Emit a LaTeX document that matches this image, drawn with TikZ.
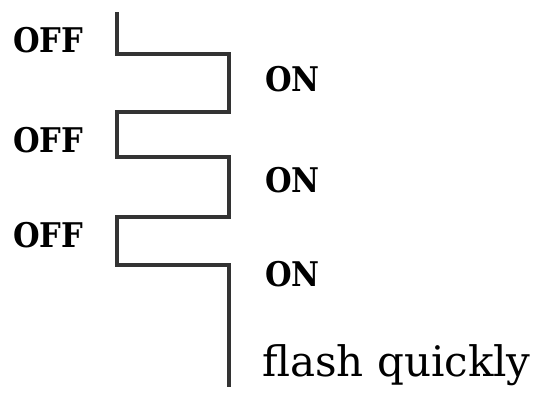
\documentclass[tikz,border=0pt]{standalone}
\usepackage{fontspec}
\setmainfont{DejaVu Serif}
\newfontfamily\condserif{DejaVu Serif Condensed}
\tikzset{
  state/.style={font=\condserif\fontsize{34}{40}\selectfont\bfseries, inner sep=0pt, anchor=base west},
  note/.style={font=\fontsize{42}{48}\selectfont, inner sep=0pt, anchor=base west},
  wave/.style={line width=3.2pt, line join=miter, draw=black!80}
}

\begin{document}
\begin{tikzpicture}[x=1pt,y=-1pt]
  \useasboundingbox (0,0) rectangle (541,392);
  % lamp signal, off = left, on = right
  \coordinate (s0) at (117,12);
  \coordinate (a1) at (117,54);  \coordinate (b1) at (229,54);
  \coordinate (b2) at (229,112); \coordinate (a2) at (117,112);
  \coordinate (a3) at (117,157); \coordinate (b3) at (229,157);
  \coordinate (b4) at (229,217); \coordinate (a4) at (117,217);
  \coordinate (a5) at (117,265); \coordinate (b5) at (229,265);
  \coordinate (e) at (229,387);
  \draw[wave] (s0) -- (a1) -- (b1) -- (b2) -- (a2) -- (a3) -- (b3)
     -- (b4) -- (a4) -- (a5) -- (b5) -- (e);
  \node[state] (off1) at (13,52) {OFF};
  \node[state] (off2) at (13,152) {OFF};
  \node[state] (off3) at (13,247) {OFF};
  \node[state] (on1) at (265,91) {ON};
  \node[state] (on2) at (265,192) {ON};
  \node[state] (on3) at (265,286) {ON};
  \node[note] (flash) at (262,376) {flash quickly};
\end{tikzpicture}
\end{document}
